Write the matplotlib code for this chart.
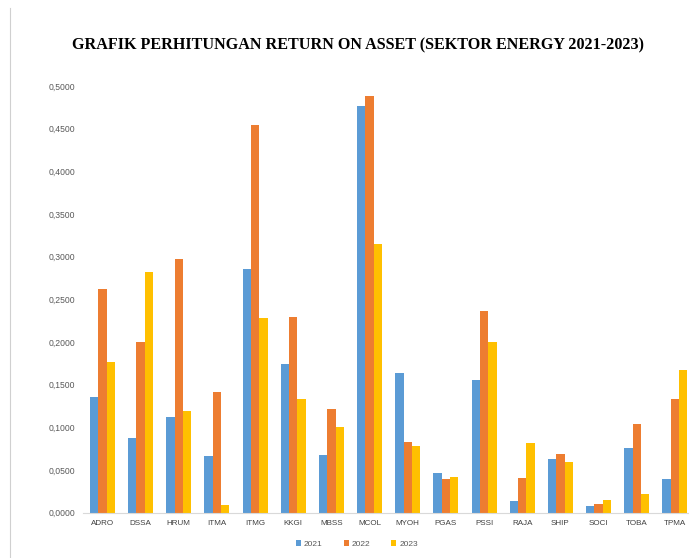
import matplotlib
matplotlib.use("Agg")
import matplotlib.pyplot as plt
import numpy as np
from matplotlib.lines import Line2D
from matplotlib.ticker import FuncFormatter

categories = ["ADRO", "DSSA", "HRUM", "ITMA", "ITMG", "KKGI", "MBSS", "MCOL",
              "MYOH", "PGAS", "PSSI", "RAJA", "SHIP", "SOCI", "TOBA", "TPMA"]
roa_2021 = [0.135, 0.088, 0.112, 0.067, 0.285, 0.174, 0.068, 0.477,
            0.164, 0.047, 0.155, 0.014, 0.063, 0.008, 0.076, 0.040]
roa_2022 = [0.262, 0.200, 0.297, 0.141, 0.454, 0.229, 0.121, 0.488,
            0.083, 0.039, 0.236, 0.041, 0.069, 0.010, 0.104, 0.133]
roa_2023 = [0.177, 0.282, 0.119, 0.009, 0.228, 0.133, 0.100, 0.315,
            0.078, 0.042, 0.200, 0.082, 0.059, 0.015, 0.022, 0.167]
series_labels = ["2021", "2022", "2023"]
yticks = [0.0, 0.05, 0.10, 0.15, 0.20, 0.25, 0.30, 0.35, 0.40, 0.45, 0.50]

colors = ["#5B9BD5", "#ED7D31", "#FFC000"]

W, H = 689, 558
fig = plt.figure(figsize=(W / 100, H / 100), dpi=100)
fig.patch.set_facecolor("white")

left_px, right_px = 83.4, 694.0
top_px, bottom_px = 86.0, 512.7
ax = fig.add_axes([left_px / W, 1 - bottom_px / H,
                   (right_px - left_px) / W, (bottom_px - top_px) / H])

x = np.arange(len(categories))
bw = 0.218
for i, (vals, lab) in enumerate(zip([roa_2021, roa_2022, roa_2023], series_labels)):
    ax.bar(x + (i - 1) * bw, vals, width=bw, color=colors[i], label=lab,
           edgecolor="none", zorder=2)

ax.set_xlim(-0.5, len(categories) - 0.5)
ax.set_ylim(0, 0.5)
ax.set_yticks(yticks)
ax.yaxis.set_major_formatter(FuncFormatter(lambda v, p: f"{v:.4f}".replace(".", ",")))
ax.set_xticks(x)
ax.set_xticklabels(categories)

for s in ["top", "right", "left"]:
    ax.spines[s].set_visible(False)
ax.spines["bottom"].set_color("#D9D9D9")
ax.spines["bottom"].set_linewidth(0.8)
ax.tick_params(axis="both", length=0)
ax.tick_params(axis="y", labelsize=6.2, labelcolor="#595959", pad=6)
ax.tick_params(axis="x", labelsize=5.8, labelcolor="#404040", pad=5)
for lbl in ax.get_yticklabels() + ax.get_xticklabels():
    lbl.set_family("Liberation Sans")

fig.text(357.5 / W, 1 - 45 / H, "GRAFIK PERHITUNGAN RETURN ON ASSET (SEKTOR ENERGY 2021-2023)",
         ha="center", va="center", fontsize=11.6, fontweight="bold",
         family="Liberation Serif", color="black")

leg = fig.legend(loc="center", bbox_to_anchor=(357 / W, 1 - 544 / H), ncol=3,
                 frameon=False, handlelength=0.6, handleheight=0.6,
                 columnspacing=2.5, handletextpad=0.4,
                 prop={"family": "Liberation Sans", "size": 6})
for t in leg.get_texts():
    t.set_color("#595959")

fig.add_artist(Line2D([10 / W, 10 / W], [0, 1 - 8 / H], transform=fig.transFigure,
                      color="#D0D0D0", linewidth=0.8))

fig.savefig("out.png", dpi=100)
